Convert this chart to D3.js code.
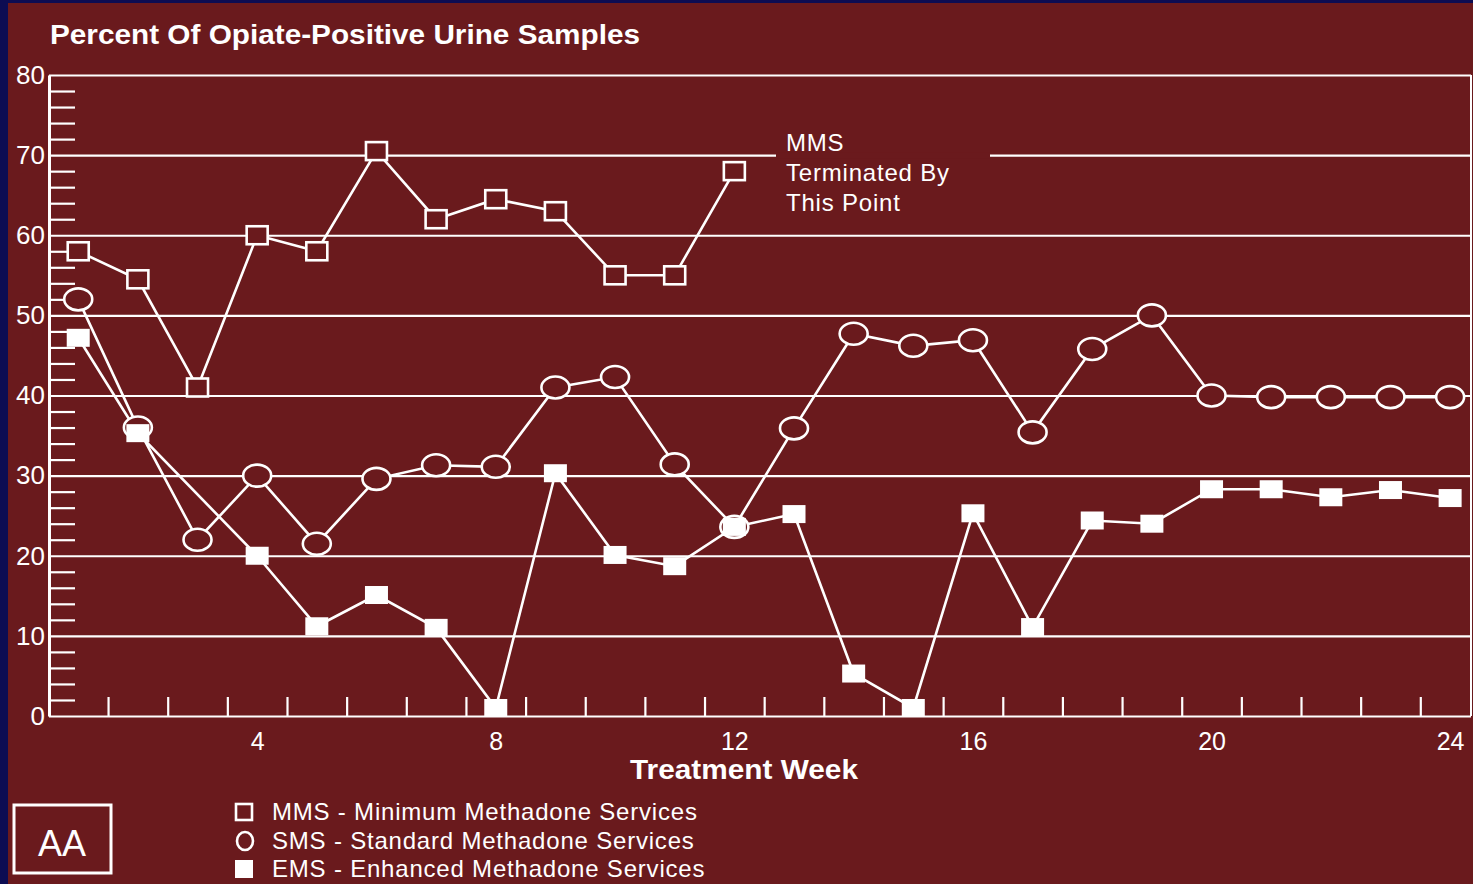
<!DOCTYPE html>
<html>
<head>
<meta charset="utf-8">
<script src="https://cdn.jsdelivr.net/npm/d3@7"></script>
<style>
    body { margin: 0; background: #0c0c52; }
    svg { display: block; }
    text { font-family: "Liberation Sans", Arial, Helvetica, sans-serif; fill: #fff; }
</style>
</head>
<body>
<script>
//data
var weeks = [1, 2, 3, 4, 5, 6, 7, 8, 9, 10, 11, 12, 13, 14, 15, 16, 17, 18, 19, 20, 21, 22, 23, 24];
var mmsValues = [58, 54.5, 41, 60, 58, 70.5, 62, 64.5, 63, 55, 55, 68];  //MMS stopped after week 12
var smsValues = [52, 36, 22, 30, 21.5, 29.6, 31.3, 31.1, 41, 42.3, 31.4, 23.6,
    35.9, 47.7, 46.2, 46.9, 35.4, 45.8, 50, 40, 39.8, 39.8, 39.8, 39.8];
var emsValues = [47.2, 35.3, null, 20, 11.2, 15.1, 11, 1, 30.3, 20.1, 18.7, 23.6,
    25.2, 5.3, 1, 25.3, 11.1, 24.4, 24, 28.3, 28.3, 27.3, 28.2, 27.2];
var yTickValues = [0, 10, 20, 30, 40, 50, 60, 70, 80];
var xLabelValues = [4, 8, 12, 16, 20, 24];
var legendLabels = ["MMS - Minimum Methadone Services", "SMS - Standard Methadone Services", "EMS - Enhanced Methadone Services"];
var noteLines = ["MMS", "Terminated By", "This Point"];

var bg = "#6a1a1d";
var W = 1473, H = 884;
//(top is taken by window.top, so use own names)
var plotL = 49, plotR = 1471, plotT = 75, plotB = 716;

//scales
var x = d3.scaleLinear().domain([0.51, 24.35]).range([plotL, plotR]);
var y = d3.scaleLinear().domain([0, 80]).range([plotB, plotT]);

//main svg
var svgDoc = d3.select("body").append("svg")
    .attr("width", W)
    .attr("height", H);

svgDoc.append("rect")
    .attr("x", 8).attr("y", 3)
    .attr("width", W - 8).attr("height", H - 3)
    .attr("fill", bg);

//title
svgDoc.append("text")
    .attr("x", 50).attr("y", 44)
    .attr("textLength", 590)
    .attr("lengthAdjust", "spacingAndGlyphs")
    .style("font-size", "27px")
    .style("font-weight", "bold")
    .text("Percent Of Opiate-Positive Urine Samples");

//gridlines + y labels
var gridAxis = svgDoc.append("g")
    .attr("transform", "translate(" + plotL + ",0)")
    .call(d3.axisLeft(y)
        .tickValues(yTickValues)
        .tickSizeInner(-(plotR - plotL))
        .tickSizeOuter(0)
        .tickPadding(4));
gridAxis.select(".domain").attr("stroke", "#fff").attr("stroke-width", 3);
gridAxis.selectAll(".tick line").attr("stroke", "#fff").attr("stroke-width", 2.2);
gridAxis.selectAll(".tick text")
    .attr("fill", "#fff")
    .style("font-size", "26px")
    .style("font-family", "'Liberation Sans', Arial, sans-serif");

//minor y ticks every 2
var minorY = d3.range(2, 80, 2).filter(function (d) { return d % 10 != 0; });
var minorAxis = svgDoc.append("g")
    .attr("transform", "translate(" + plotL + ",0)")
    .call(d3.axisLeft(y).tickValues(minorY).tickSize(-26).tickFormat(""));
minorAxis.select(".domain").remove();
minorAxis.selectAll(".tick line").attr("stroke", "#fff").attr("stroke-width", 2.2);

//right border
svgDoc.append("line")
    .attr("x1", plotR).attr("x2", plotR)
    .attr("y1", plotT).attr("y2", plotB)
    .attr("stroke", "#fff").attr("stroke-width", 2);

//x ticks at half weeks, pointing up
var halfWeeks = weeks.slice(0, 23).map(function (d) { return d + 0.5; });
var xTickAxis = svgDoc.append("g")
    .attr("transform", "translate(0," + plotB + ")")
    .call(d3.axisBottom(x).tickValues(halfWeeks).tickSize(-19).tickFormat(""));
xTickAxis.select(".domain").remove();
xTickAxis.selectAll(".tick line").attr("stroke", "#fff").attr("stroke-width", 2.2);

//x labels
var xLabelAxis = svgDoc.append("g")
    .attr("transform", "translate(0," + plotB + ")")
    .call(d3.axisBottom(x).tickValues(xLabelValues).tickSize(0).tickPadding(16));
xLabelAxis.select(".domain").remove();
xLabelAxis.selectAll(".tick text")
    .attr("fill", "#fff")
    .style("font-size", "25px")
    .style("font-family", "'Liberation Sans', Arial, sans-serif");

svgDoc.append("text")
    .attr("x", 630).attr("y", 779)
    .attr("textLength", 228)
    .attr("lengthAdjust", "spacingAndGlyphs")
    .style("font-size", "27px")
    .style("font-weight", "bold")
    .text("Treatment Week");

//gap in the 70 line for the note
svgDoc.append("rect")
    .attr("x", 776).attr("y", y(70) - 3)
    .attr("width", 214).attr("height", 6)
    .attr("fill", bg);

svgDoc.append("g").selectAll("text")
    .data(noteLines)
    .enter()
    .append("text")
    .attr("x", 786)
    .attr("y", function (d, i) { return 151 + i * 30; })
    .style("font-size", "24px")
    .style("letter-spacing", "0.8px")
    .text(function (d) { return d; });

//series lines
function toPoints(vals) {
    return vals.map(function (v, i) { return { w: weeks[i], v: v }; })
        .filter(function (d) { return d.v != null; });
}
var mmsPts = toPoints(mmsValues);
var smsPts = toPoints(smsValues);
var emsPts = toPoints(emsValues);

var line = d3.line()
    .x(function (d) { return x(d.w); })
    .y(function (d) { return y(d.v); });

[mmsPts, smsPts, emsPts].forEach(function (pts) {
    svgDoc.append("path")
        .datum(pts)
        .attr("d", line)
        .attr("fill", "none")
        .attr("stroke", "#fff")
        .attr("stroke-width", 2.6);
});

//markers
svgDoc.append("g").selectAll("rect")
    .data(mmsPts)
    .enter()
    .append("rect")
    .attr("x", function (d) { return x(d.w) - 10.5; })
    .attr("y", function (d) { return y(d.v) - 9; })
    .attr("width", 21).attr("height", 18)
    .attr("fill", bg)
    .attr("stroke", "#fff")
    .attr("stroke-width", 2.6);

svgDoc.append("g").selectAll("ellipse")
    .data(smsPts)
    .enter()
    .append("ellipse")
    .attr("cx", function (d) { return x(d.w); })
    .attr("cy", function (d) { return y(d.v); })
    .attr("rx", 14).attr("ry", 11)
    .attr("fill", bg)
    .attr("stroke", "#fff")
    .attr("stroke-width", 2.6);

svgDoc.append("g").selectAll("rect")
    .data(emsPts)
    .enter()
    .append("rect")
    .attr("x", function (d) { return x(d.w) - 11.5; })
    .attr("y", function (d) { return y(d.v) - 9; })
    .attr("width", 23).attr("height", 18)
    .attr("fill", "#fff");

//legend
var legend = svgDoc.append("g");
legend.append("rect")
    .attr("x", 236).attr("y", 804).attr("width", 16).attr("height", 16)
    .attr("fill", "none").attr("stroke", "#fff").attr("stroke-width", 2.6);
legend.append("ellipse")
    .attr("cx", 245).attr("cy", 841).attr("rx", 8).attr("ry", 9)
    .attr("fill", "none").attr("stroke", "#fff").attr("stroke-width", 2.6);
legend.append("rect")
    .attr("x", 235).attr("y", 860).attr("width", 18).attr("height", 18)
    .attr("fill", "#fff");
legend.selectAll("text")
    .data(legendLabels)
    .enter()
    .append("text")
    .attr("x", 272)
    .attr("y", function (d, i) { return 820 + i * 28.5; })
    .style("font-size", "24px")
    .style("letter-spacing", "0.8px")
    .text(function (d) { return d; });

//AA box
svgDoc.append("rect")
    .attr("x", 14).attr("y", 805)
    .attr("width", 97).attr("height", 68)
    .attr("fill", "none")
    .attr("stroke", "#fff")
    .attr("stroke-width", 3);
svgDoc.append("text")
    .attr("x", 62).attr("y", 856)
    .attr("text-anchor", "middle")
    .style("font-size", "36px")
    .text("AA");
</script>
</body>
</html>
